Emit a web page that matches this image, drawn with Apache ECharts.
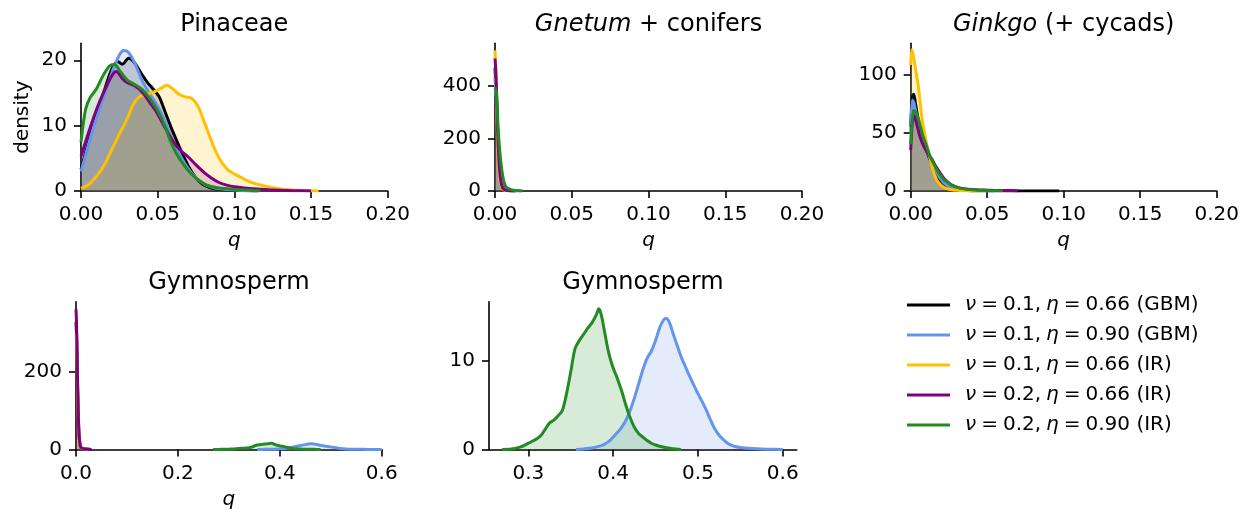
<!DOCTYPE html>
<html>
<head>
<meta charset="utf-8">
<script src="https://cdn.jsdelivr.net/npm/echarts@6/dist/echarts.min.js"></script>
<style>
  html, body { margin: 0; padding: 0; background: #ffffff; }
  #chart { width: 1250px; height: 512px; }
</style>
</head>
<body>
<div id="chart"></div>
<script>
// ---- model variants (legend order) ----
const seriesNames = [
  'ν = 0.1, η = 0.66 (GBM)',
  'ν = 0.1, η = 0.90 (GBM)',
  'ν = 0.1, η = 0.66 (IR)',
  'ν = 0.2, η = 0.66 (IR)',
  'ν = 0.2, η = 0.90 (IR)'
];
const seriesColors = ['#000000', '#6495ED', '#FFC000', '#800080', '#228B22'];

// ---- tick values ----
const xTicksClades = [0, 0.05, 0.10, 0.15, 0.20];
const xTicksGymno = [0, 0.2, 0.4, 0.6];
const xTicksGymnoZoom = [0.3, 0.4, 0.5, 0.6];
const yTicksPinaceae = [0, 10, 20];
const yTicksGnetum = [0, 200, 400];
const yTicksGinkgo = [0, 50, 100];
const yTicksGymno = [0, 200];
const yTicksGymnoZoom = [0, 10];

// ---- posterior densities of q: Pinaceae ----
const pinaceaeBlack = [[0,3.3],[0.005,7.6],[0.01,11.6],[0.015,15.2],[0.02,18.6],[0.024,19.8],[0.027,19.4],[0.031,20.3],[0.035,19.6],[0.039,18.1],[0.043,16.7],[0.047,15.6],[0.051,14.4],[0.055,12],[0.06,9],[0.065,6.3],[0.07,3.8],[0.075,2],[0.08,0.9],[0.085,0.45],[0.09,0.25],[0.1,0.1],[0.115,0]];
const pinaceaeBlue = [[0,3.0],[0.005,7.2],[0.01,11.2],[0.015,14.5],[0.02,18],[0.025,20.8],[0.028,21.5],[0.031,21.2],[0.035,19.6],[0.04,16.8],[0.045,14.8],[0.05,13.0],[0.055,10.6],[0.06,7.6],[0.065,5.3],[0.07,3.4],[0.075,2.0],[0.08,1.1],[0.085,0.6],[0.09,0.35],[0.1,0.15],[0.115,0]];
const pinaceaeGold = [[0,0.4],[0.005,1.0],[0.01,2.2],[0.015,3.9],[0.02,6.3],[0.025,8.7],[0.03,11.0],[0.034,13.2],[0.038,14.4],[0.043,14.8],[0.048,15.2],[0.052,15.7],[0.056,16.2],[0.06,15.6],[0.064,14.8],[0.068,14.4],[0.072,14.2],[0.076,13.1],[0.08,10.8],[0.084,8.3],[0.088,6.0],[0.092,4.3],[0.096,3.2],[0.1,2.6],[0.105,2.0],[0.11,1.4],[0.115,1.05],[0.12,0.75],[0.128,0.4],[0.136,0.2],[0.145,0.08],[0.155,0]];
const pinaceaePurple = [[0,5.3],[0.005,9.0],[0.01,12.4],[0.015,15.2],[0.02,17.6],[0.023,18.3],[0.027,17.2],[0.03,16.6],[0.035,16.1],[0.04,15.1],[0.045,13.5],[0.05,11.8],[0.055,9.6],[0.06,7.6],[0.065,6.2],[0.07,5.2],[0.075,4.0],[0.08,2.9],[0.085,2.0],[0.09,1.3],[0.095,0.9],[0.1,0.65],[0.11,0.4],[0.12,0.22],[0.13,0.1],[0.14,0.04],[0.15,0]];
const pinaceaeGreen = [[0,7.5],[0.003,12.5],[0.006,14.3],[0.01,15.6],[0.015,17.9],[0.02,19.3],[0.022,19.3],[0.025,18.5],[0.03,17.0],[0.035,16.3],[0.04,15.5],[0.045,14.1],[0.05,12.3],[0.055,9.8],[0.058,7.8],[0.062,5.8],[0.067,4.0],[0.072,2.6],[0.077,1.6],[0.082,0.9],[0.09,0.45],[0.1,0.25],[0.117,0]];

// ---- Gnetum + conifers ----
const gnetumBlack = [[0,470],[0.001,330],[0.002,190],[0.003,100],[0.004,50],[0.005,24],[0.006,11],[0.008,3],[0.01,1],[0.013,0]];
const gnetumBlue = [[0,430],[0.001,320],[0.002,200],[0.003,115],[0.004,60],[0.005,30],[0.006,15],[0.008,5],[0.01,2],[0.013,0.8],[0.017,0]];
const gnetumGold = [[0,536],[0.0005,470],[0.001,360],[0.0015,240],[0.002,150],[0.003,60],[0.004,22],[0.005,8],[0.007,2],[0.01,0.5],[0.013,0]];
const gnetumPurple = [[0,505],[0.0005,460],[0.001,380],[0.0015,280],[0.002,190],[0.003,80],[0.004,32],[0.005,12],[0.007,3],[0.01,0.6],[0.014,0]];
const gnetumGreen = [[0,395],[0.001,370],[0.002,245],[0.003,160],[0.004,100],[0.005,58],[0.006,32],[0.007,17],[0.008,11],[0.01,6],[0.012,3],[0.015,1],[0.018,0]];

// ---- Ginkgo (+ cycads) ----
const ginkgoBlack = [[0,55],[0.001,80],[0.002,83],[0.003,76],[0.004,68],[0.005,60],[0.006,53],[0.008,44],[0.01,36],[0.012,29],[0.014,23],[0.016,17],[0.018,12],[0.02,8],[0.022,5.5],[0.025,3],[0.03,1.3],[0.035,0.6],[0.04,0.3],[0.05,0.2],[0.06,0.15],[0.07,0.1],[0.08,0.1],[0.097,0]];
const ginkgoBlue = [[0,50],[0.001,78],[0.002,76],[0.003,70],[0.004,64],[0.005,58],[0.006,52],[0.008,44],[0.01,37],[0.012,30],[0.014,24],[0.016,18.5],[0.018,13.5],[0.02,9.5],[0.022,6.5],[0.025,3.8],[0.03,1.6],[0.035,0.7],[0.04,0.3],[0.05,0.1],[0.055,0]];
const ginkgoGold = [[0,108],[0.0007,121],[0.002,114],[0.003,106],[0.004,98],[0.005,90],[0.006,78],[0.007,66],[0.008,57],[0.009,50],[0.01,43],[0.011,37],[0.012,32],[0.013,26],[0.014,21],[0.015,16],[0.016,12.5],[0.017,9.5],[0.019,6],[0.021,3.6],[0.023,2.2],[0.026,1.2],[0.03,0.6],[0.035,0.25],[0.04,0.1],[0.05,0]];
const ginkgoPurple = [[0,35],[0.001,58],[0.002,65],[0.003,62],[0.004,57],[0.005,52],[0.006,47],[0.008,40],[0.01,35],[0.012,31],[0.014,27],[0.016,22],[0.018,18],[0.02,14],[0.022,10.5],[0.025,7],[0.028,4.5],[0.032,2.7],[0.036,1.8],[0.04,1.3],[0.045,0.9],[0.05,0.7],[0.055,0.5],[0.06,0.35],[0.065,0.2],[0.07,0]];
const ginkgoGreen = [[0,40],[0.001,62],[0.002,69],[0.003,68],[0.004,66],[0.005,62],[0.006,57],[0.007,52],[0.008,47],[0.01,40],[0.012,32],[0.014,26],[0.016,21],[0.018,16],[0.02,12.5],[0.022,9.5],[0.025,6.5],[0.028,4.2],[0.032,2.5],[0.036,1.6],[0.04,1.1],[0.045,0.7],[0.05,0.4],[0.055,0.2],[0.06,0]];

// ---- Gymnosperm ----
const gymnoBlack = [[0,330],[0.001,300],[0.002,240],[0.003,170],[0.004,110],[0.005,65],[0.006,36],[0.008,10],[0.01,4],[0.015,1.5],[0.02,0.8],[0.03,0]];
const gymnoGold = [[0,300],[0.001,280],[0.002,225],[0.003,160],[0.004,105],[0.005,62],[0.006,35],[0.008,10],[0.01,4],[0.015,1.5],[0.025,0]];
const gymnoPurple = [[0,362],[0.001,330],[0.002,260],[0.003,185],[0.004,120],[0.005,72],[0.006,40],[0.008,12],[0.01,5],[0.015,2],[0.02,1],[0.03,0]];
const gymnoBlue = [[0.356,0],[0.365,0.05],[0.375,0.15],[0.385,0.4],[0.39,0.6],[0.395,0.9],[0.4,1.4],[0.405,1.9],[0.41,2.5],[0.415,3.3],[0.42,4.4],[0.425,5.8],[0.43,7.4],[0.435,9.0],[0.44,10.3],[0.445,11.1],[0.45,12.3],[0.455,13.8],[0.46,14.7],[0.463,14.8],[0.467,14.2],[0.47,13.3],[0.475,11.9],[0.48,10.5],[0.485,9.4],[0.49,8.3],[0.495,7.3],[0.5,6.3],[0.505,5.4],[0.51,4.4],[0.515,3.3],[0.52,2.3],[0.525,1.6],[0.53,1.1],[0.535,0.7],[0.54,0.45],[0.545,0.3],[0.55,0.22],[0.56,0.12],[0.57,0.06],[0.58,0.03],[0.6,0]];
const gymnoGreen = [[0.269,0],[0.28,0.05],[0.29,0.25],[0.3,0.7],[0.305,0.95],[0.31,1.2],[0.315,1.6],[0.32,2.3],[0.325,3.0],[0.33,3.3],[0.335,3.8],[0.34,4.4],[0.345,6.3],[0.35,8.8],[0.355,11.4],[0.36,12.3],[0.365,13.0],[0.37,13.7],[0.375,14.3],[0.38,15.2],[0.383,15.9],[0.386,15.2],[0.39,13.2],[0.395,10.8],[0.4,9.2],[0.405,8.0],[0.41,6.6],[0.415,5.0],[0.42,3.6],[0.425,2.5],[0.43,1.8],[0.435,1.4],[0.44,1.0],[0.445,0.7],[0.45,0.5],[0.46,0.25],[0.47,0.08],[0.48,0]];

const FONT = 'DejaVu Sans';
const INK = '#000000';
const MATH_SPACE = '\u2005';

// panel layout and the curves each one shows (index into seriesNames)
const panels = [
  { title: 'Pinaceae', box: { left: 81, top: 43.3, width: 306.7, height: 147.7 },
    x: [0, 0.2], xTicks: xTicksClades, xDigits: 2, xName: 'q',
    y: [0, 22.6], yTicks: yTicksPinaceae, yName: 'density',
    curves: [[0, pinaceaeBlack], [1, pinaceaeBlue], [2, pinaceaeGold], [3, pinaceaePurple], [4, pinaceaeGreen]] },
  { title: '{i|Gnetum} + conifers', box: { left: 495, top: 43.3, width: 307, height: 147.7 },
    x: [0, 0.2], xTicks: xTicksClades, xDigits: 2, xName: 'q',
    y: [0, 563], yTicks: yTicksGnetum, yName: '',
    curves: [[0, gnetumBlack], [1, gnetumBlue], [2, gnetumGold], [3, gnetumPurple], [4, gnetumGreen]] },
  { title: '{i|Ginkgo} (+ cycads)', box: { left: 910.7, top: 43.3, width: 306, height: 147.7 },
    x: [0, 0.2], xTicks: xTicksClades, xDigits: 2, xName: 'q',
    y: [0, 126.6], yTicks: yTicksGinkgo, yName: '',
    curves: [[0, ginkgoBlack], [1, ginkgoBlue], [2, ginkgoGold], [3, ginkgoPurple], [4, ginkgoGreen]] },
  { title: 'Gymnosperm', box: { left: 76, top: 301.7, width: 305.7, height: 147.7 },
    x: [0, 0.6], xTicks: xTicksGymno, xDigits: 1, xName: 'q',
    y: [0, 382], yTicks: yTicksGymno, yName: '',
    curves: [[0, gymnoBlack], [1, gymnoBlue], [2, gymnoGold], [3, gymnoPurple], [4, gymnoGreen]] },
  { title: 'Gymnosperm', box: { left: 489, top: 301.7, width: 307.7, height: 147.7 },
    x: [0.2535, 0.6165], xTicks: xTicksGymnoZoom, xDigits: 1, xName: '',
    y: [0, 16.7], yTicks: yTicksGymnoZoom, yName: '',
    curves: [[1, gymnoBlue], [4, gymnoGreen]] }
];

function hexToRgba(hex, a) {
  const n = parseInt(hex.slice(1), 16);
  return 'rgba(' + ((n >> 16) & 255) + ',' + ((n >> 8) & 255) + ',' + (n & 255) + ',' + a + ')';
}

// math-style legend label: italic symbols, tight spacing around "=" and after ","
function mathLabel(name) {
  return name
    .replace(/ = /g, MATH_SPACE + '=' + MATH_SPACE)
    .replace(', ', ',' + MATH_SPACE)
    .replace('ν', '{i|ν}')
    .replace('η', '{i|η}');
}

const italicRich = { i: { fontStyle: 'italic', fontFamily: FONT, fontSize: 24, color: INK } };

const grids = [], xAxes = [], yAxes = [], series = [], titles = [];
panels.forEach((p, k) => {
  grids.push(Object.assign({ containLabel: false }, p.box));
  xAxes.push({
    type: 'value', gridIndex: k, min: p.x[0], max: p.x[1],
    name: p.xName, nameLocation: 'middle', nameGap: 40,
    nameTextStyle: { fontFamily: FONT, fontStyle: 'italic', fontSize: 20, color: INK },
    axisLine: { show: true, onZero: false, lineStyle: { color: INK, width: 1.6 } },
    axisTick: { show: true, length: 7, lineStyle: { color: INK, width: 1.6 }, customValues: p.xTicks },
    axisLabel: { customValues: p.xTicks, margin: 14, fontFamily: FONT, fontSize: 20, color: INK,
                 formatter: v => Number(v).toFixed(p.xDigits) },
    splitLine: { show: false }
  });
  yAxes.push({
    type: 'value', gridIndex: k, min: p.y[0], max: p.y[1],
    name: p.yName, nameLocation: 'middle', nameGap: 48, nameRotate: 90,
    nameTextStyle: { fontFamily: FONT, fontSize: 20, color: INK },
    axisLine: { show: true, lineStyle: { color: INK, width: 1.6 } },
    axisTick: { show: true, length: 7, lineStyle: { color: INK, width: 1.6 }, customValues: p.yTicks },
    axisLabel: { customValues: p.yTicks, margin: 14, fontFamily: FONT, fontSize: 20, color: INK },
    splitLine: { show: false }
  });
  p.curves.forEach(([idx, pts]) => {
    const c = seriesColors[idx];
    series.push({
      type: 'line', name: seriesNames[idx], xAxisIndex: k, yAxisIndex: k,
      data: pts, showSymbol: false, symbol: 'none', smooth: 0.3,
      itemStyle: { color: c },
      lineStyle: { color: c, width: 3 },
      areaStyle: { color: hexToRgba(c, 0.25) },
      emphasis: { disabled: true }, silent: true
    });
  });
  titles.push({
    type: 'text',
    x: p.box.left + p.box.width / 2,
    y: p.box.top - 19,
    style: { text: p.title, align: 'center', verticalAlign: 'middle',
             fontFamily: FONT, fontSize: 24, fill: INK, rich: italicRich }
  });
});

const chart = echarts.init(document.getElementById('chart'), null, { renderer: 'canvas' });
chart.setOption({
  backgroundColor: '#ffffff',
  animation: false,
  textStyle: { fontFamily: FONT },
  grid: grids,
  xAxis: xAxes,
  yAxis: yAxes,
  series: series,
  legend: {
    data: seriesNames, orient: 'vertical', left: 907, top: 293, padding: 0,
    icon: 'rect', itemWidth: 43, itemHeight: 3, itemGap: 6, selectedMode: false,
    formatter: mathLabel,
    textStyle: {
      fontFamily: FONT, fontSize: 20, color: INK, lineHeight: 24, padding: [0, 0, 0, 10],
      rich: { i: { fontStyle: 'italic', fontFamily: FONT, fontSize: 20, color: INK } }
    }
  },
  graphic: titles
});
</script>
</body>
</html>
